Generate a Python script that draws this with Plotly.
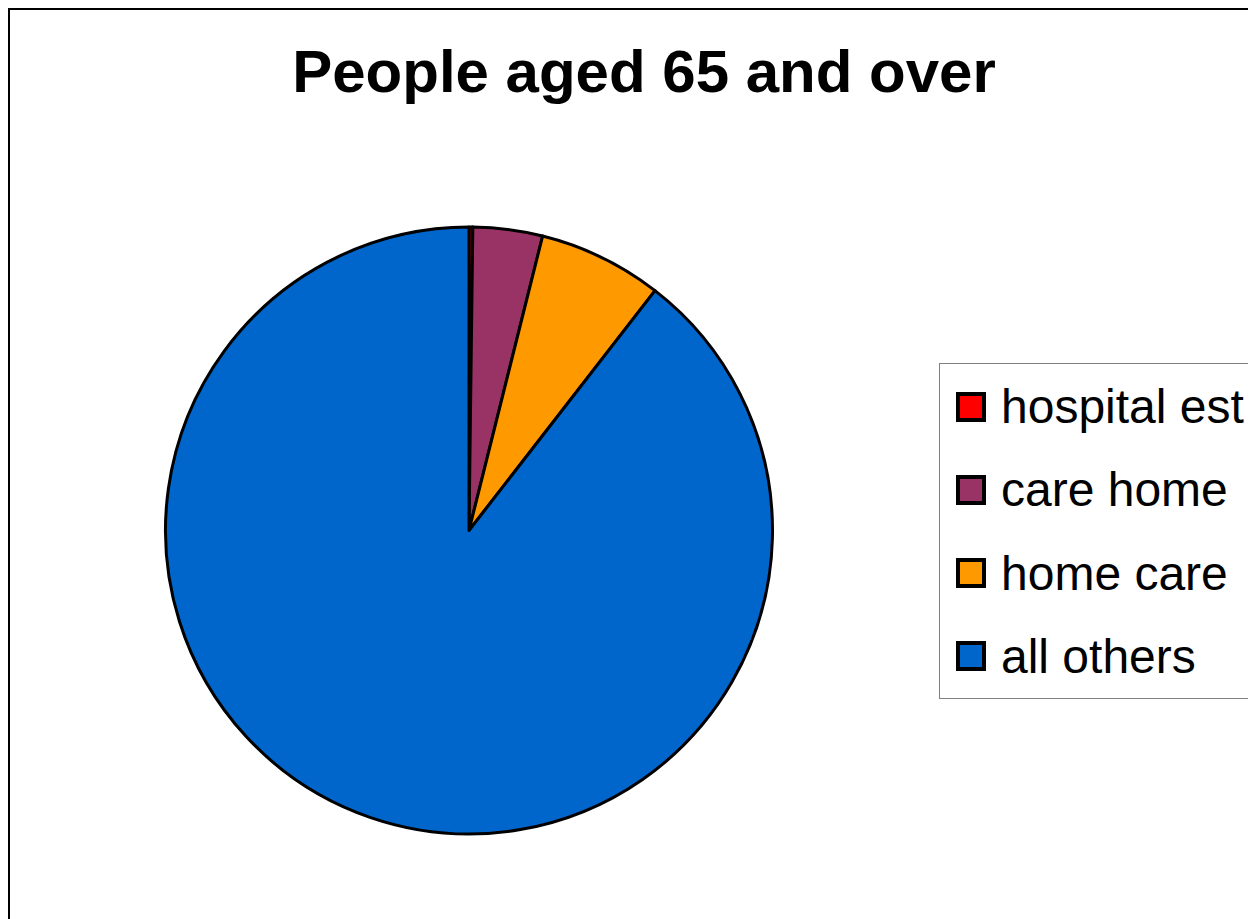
import plotly.graph_objects as go

# ---- data ----
categories = ["hospital est", "care home", "home care", "all others"]
values = [0.2, 3.7, 6.6, 89.5]
colors = ["#FF0000", "#993366", "#FF9900", "#0066CC"]
title_text = "People aged 65 and over"

W, H = 1256, 919
OFF = 8  # page body margin offset of the plot div


def px_x(p):  # page pixel -> paper x
    return (p - OFF) / W


def px_y(p):  # page pixel -> paper y
    return 1 - (p - OFF) / H


FONT = "Liberation Sans, Arial, sans-serif"

fig = go.Figure()

fig.add_trace(go.Pie(
    labels=categories,
    values=values,
    sort=False,
    direction="clockwise",
    rotation=0,
    marker=dict(colors=colors, line=dict(color="black", width=3)),
    textinfo="none",
    hoverinfo="label+percent",
    showlegend=False,
    domain=dict(x=[px_x(165), px_x(773)], y=[px_y(834), px_y(227)]),
))

# legend drawn as a keyed scatter on its own (hidden) axes
n = len(categories)
fig.add_trace(go.Scatter(
    x=[0] * n,
    y=categories,
    mode="markers",
    marker=dict(symbol="square", size=26, color=colors,
                line=dict(color="black", width=4)),
    hoverinfo="skip",
    showlegend=False,
    cliponaxis=False,
))

legend_left, legend_right = 940, 1264
legend_top, legend_bottom = 363.5, 697.5
unit = 83.0  # px per legend row
sym_x = 971
xr0 = -(sym_x - legend_left)
xr1 = legend_right - sym_x
first_c = 407
y_top = -(first_c - legend_top) / unit
y_bot = (n - 1) + (legend_bottom - (first_c + (n - 1) * unit)) / unit

annotations = [
    dict(x=28, y=cat, xref="x", yref="y", text=cat, showarrow=False,
         xanchor="left", yanchor="middle",
         font=dict(size=48, family=FONT, color="black"))
    for cat in categories
]

fig.update_layout(
    width=W, height=H,
    margin=dict(l=0, r=0, t=0, b=0),
    paper_bgcolor="white",
    plot_bgcolor="white",
    font=dict(family=FONT, color="black"),
    title=dict(
        text=title_text,
        x=px_x(644), xanchor="center",
        y=px_y(71), yanchor="middle",
        font=dict(size=60, family=FONT, weight="bold", color="black"),
    ),
    xaxis=dict(domain=[px_x(legend_left), px_x(legend_right)], range=[xr0, xr1],
               showgrid=False, zeroline=False, showticklabels=False, ticks="",
               showline=True, mirror=True, linecolor="#808080", linewidth=1,
               fixedrange=True),
    yaxis=dict(domain=[px_y(legend_bottom), px_y(legend_top)],
               type="category", categoryorder="array", categoryarray=categories,
               range=[y_bot, y_top],
               showgrid=False, zeroline=False, showticklabels=False, ticks="",
               showline=True, mirror=True, linecolor="#808080", linewidth=1,
               fixedrange=True),
    annotations=annotations,
    shapes=[dict(
        type="rect", xref="paper", yref="paper",
        x0=1 / W, x1=1.05, y0=-0.05, y1=1 - 1 / H,
        line=dict(color="black", width=2), layer="below",
    )],
)

fig.write_html("out.html")
